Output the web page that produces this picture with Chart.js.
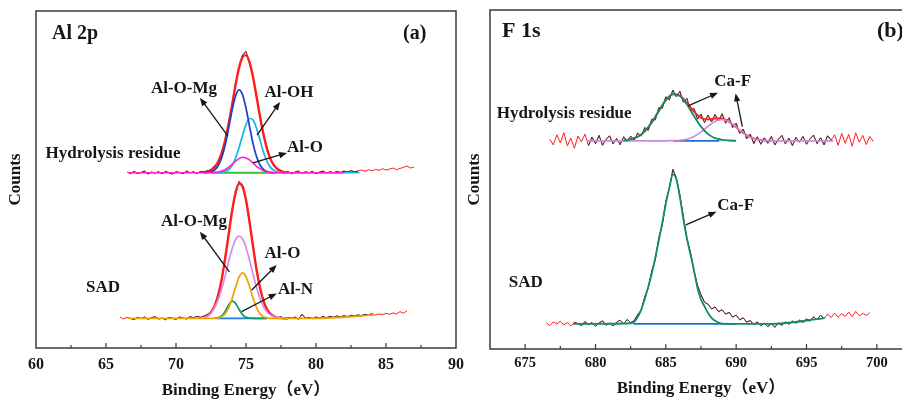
<!DOCTYPE html>
<html>
<head>
<meta charset="utf-8">
<script src="https://cdn.jsdelivr.net/npm/chart.js@4.4.1/dist/chart.umd.min.js"></script>
<style>
    html, body { margin: 0; padding: 0; width: 902px; height: 401px; overflow: hidden; background: #fff; }
    .panel { position: absolute; top: 0; height: 401px; }
    #panelA { left: 0; width: 470px; }
    #panelB { left: 460px; width: 460px; }
</style>
</head>
<body>
<div class="panel" id="panelA"><canvas id="chartA" width="470" height="401"></canvas></div>
<div class="panel" id="panelB"><canvas id="chartB" width="460" height="401"></canvas></div>
<script>
// ---- Al 2p (a) ----
// raw spectra, counts above each spectrum's baseline, one point every 0.25 eV
const al2pStep = 0.25;
const al2pHydStart = 66.5;
const al2pHydBase = 52.0;
const al2pHydRaw = [
    0.2, -0.3, 0.4, -0.2, 0.1, 0.5, -0.4, 0.2, -0.1, 0.3,
    -0.3, 0.4, 0.0, -0.4, 0.3, 0.1, -0.3, 0.5, 0.0, 0.3,
    -0.2, 0.4, 0.3, 0.6, 0.9, 2.0, 3.0, 6.0, 9.1, 14.6,
    19.7, 26.3, 31.0, 35.0, 36.0, 32.5, 28.6, 22.4, 17.0, 11.1,
    7.4, 3.9, 2.4, 0.9, 0.7, -0.1, 0.4, -0.3, 0.2, 0.5,
    -0.2, 0.3, 0.0, 0.4, -0.3, 0.2, 0.5, -0.1, 0.3, 0.0,
    0.4, 0.1, 0.5, 0.2, 0.6, 0.3, 0.5, 0.8, 0.4, 0.9,
    0.6, 1.0, 0.7, 1.2, 0.8, 1.1, 1.4, 0.9, 1.3, 1.6,
    2.0, 1.4, 1.7,
];
const al2pSadStart = 66.0;
const al2pSadBase = 8.8;
const al2pSadRaw = [
    0.4, -0.2, 0.3, 0.0, -0.4, 0.3, -0.1, 0.4, -0.3, 0.2,
    0.5, -0.2, 0.1, -0.4, 0.3, 0.0, -0.3, 0.4, 0.1, -0.2,
    0.5, 0.2, 0.6, 0.3, 0.7, 1.2, 1.9, 3.4, 6.9, 11.0,
    17.8, 24.3, 32.0, 37.0, 40.6, 39.0, 35.4, 28.3, 21.8, 14.3,
    9.4, 4.9, 2.9, 1.1, 0.8, 0.1, 0.5, -0.2, 0.3, 0.0,
    0.4, -0.3, 1.2, 0.1, 0.3, -0.1, 0.4, 0.1, 0.5, 0.2,
    0.6, 0.3, 0.7, 0.4, 0.8, 0.5, 0.9, 0.7, 1.0, 0.8,
    1.2, 0.9, 1.4, 1.0, 1.3, 1.1, 1.5, 1.2, 1.6, 1.3,
    2.0, 1.5, 2.3,
];

// fitted peaks
const al2pGrid = [72.0, 72.25, 72.5, 72.75, 73.0, 73.25, 73.5, 73.75, 74.0, 74.25, 74.5, 74.75, 75.0,
    75.25, 75.5, 75.75, 76.0, 76.25, 76.5, 76.75, 77.0, 77.25, 77.5, 77.75, 78.0];
const al2pHydFitE = [66.6, ...al2pGrid, 82.0, 83.1];
const al2pHydEnv = [null, 0.1, 0.3, 0.8, 1.6, 3.2, 5.7, 9.4, 14.3, 20.0, 26.0, 31.1, 34.3, 34.9, 32.8, 28.4, 22.7, 16.7, 11.4, 7.1, 4.1, 2.2, 1.1, 0.5, 0.2, 0.1, null, null];
const al2pHydAlOMg = [null, 0.0, 0.1, 0.3, 0.8, 2.0, 4.3, 8.0, 13.0, 18.4, 22.7, 24.6, 23.2, 19.2, 13.8, 8.7, 4.8, 2.3, 1.0, 0.4, 0.1, 0.0, null, null, null, null, null, null];
const al2pHydAlOH = [null, null, null, 0.0, 0.0, 0.0, 0.1, 0.4, 0.9, 2.1, 4.3, 7.4, 11.0, 14.3, 16.1, 15.7, 13.2, 9.7, 6.1, 3.4, 1.6, 0.7, 0.2, 0.1, 0.0, 0.0, 0.0, 0.0];
const al2pHydAlO = [0.0, 0.0, 0.0, 0.0, 0.1, 0.2, 0.5, 0.9, 1.6, 2.5, 3.4, 4.2, 4.6, 4.4, 3.8, 2.9, 1.9, 1.2, 0.6, 0.3, 0.1, 0.0, 0.0, 0.0, 0.0, 0.0, 0.0, null];
const al2pHydBgE = [72.6, 77.2];

const al2pSadFitE = [66.6, ...al2pGrid, 80.0, 84.2];
const al2pSadEnv = [null, 0.3, 0.8, 1.8, 3.6, 6.7, 11.3, 17.5, 24.6, 31.7, 37.2, 40.0, 39.2, 35.1, 28.7, 21.4, 14.6, 9.1, 5.2, 2.7, 1.3, 0.6, 0.2, 0.1, 0.0, 0.0, null, null];
const al2pSadAlOMg = [null, 0.3, 0.7, 1.6, 3.1, 5.4, 8.5, 12.4, 16.6, 20.5, 23.3, 24.4, 23.6, 21.0, 17.3, 13.1, 9.2, 5.9, 3.5, 1.9, 1.0, 0.5, 0.2, 0.1, 0.0, 0.0, null, null];
const al2pSadAlO = [0.0, 0.0, 0.0, 0.0, 0.0, 0.1, 0.5, 1.3, 3.0, 5.7, 9.2, 12.2, 13.5, 12.4, 9.5, 6.0, 3.2, 1.4, 0.5, 0.2, 0.0, 0.0, 0.0, 0.0, 0.0, 0.0, 0.0, 1.0];
const al2pSadAlN = [null, null, null, null, 0.0, 0.2, 0.7, 2.0, 3.9, 5.1, 4.5, 2.7, 1.1, 0.3, 0.1, 0.0, 0.0, 0.0, 0.0, 0.0, null, null, null, null, null, null, null, null];
const al2pSadBgE = [72.9, 76.5];

// ---- F 1s (b) ----
const f1sStep = 0.25;
const f1sHydStart = 676.75;
const f1sHydBase = 61.4;
const f1sHydRaw = [
    0.5, -1.2, 1.8, -0.6, 2.4, -1.5, 0.8, -2.2, 1.4, -0.3,
    2.0, -1.4, 1.1, -0.8, 1.6, -1.3, 0.4, 1.5, -0.9, 0.7,
    -1.1, 1.2, -0.2, 1.4, 0.2, 2.3, 1.4, 3.9, 3.1, 6.4,
    6.2, 9.8, 9.6, 13.0, 12.1, 15.0, 13.0, 14.6, 11.4, 12.5,
    9.0, 9.6, 6.4, 7.9, 5.4, 7.6, 5.6, 7.8, 5.9, 8.0,
    5.2, 6.8, 3.9, 5.2, 2.2, 3.5, 0.6, 2.0, -0.8, 1.2,
    -1.0, 0.9, -0.7, 1.3, -1.2, 0.5, 1.6, -0.9, 0.8, -1.4,
    1.0, -0.4, 1.3, -1.0, 0.6, 1.7, -0.8, 0.9, -1.2, 1.5,
    0.2, 1.8, -1.3, 2.2, -0.7, 1.9, -1.6, 2.4, -0.4, 1.6,
    -1.1, 1.3, -0.2,
];
const f1sSadStart = 676.5;
const f1sSadBase = 7.4;
const f1sSadRaw = [
    0.3, -0.5, 0.6, 0.0, 0.8, -0.3, 0.4, -0.6, 0.5, 0.1,
    -0.5, 0.7, -0.2, 0.4, -0.7, 0.3, 0.9, -0.4, 0.2, -0.6,
    0.5, 1.1, 0.0, 1.3, 0.4, 1.0, 2.8, 4.0, 8.0, 10.6,
    15.6, 19.0, 25.4, 29.2, 36.2, 40.0, 45.6, 43.0, 37.9, 31.5,
    25.0, 21.2, 15.6, 11.4, 8.6, 6.4, 5.8, 4.4, 5.0, 3.6,
    4.2, 2.9, 3.4, 2.0, 2.6, 1.2, 1.8, 0.5, 1.0, -0.2,
    0.6, -0.5, 0.2, -0.8, 0.1, -1.0, 0.3, -0.4, 0.6, -0.1,
    0.8, 0.2, 1.1, 0.4, 1.5, 0.8, 2.1, 1.2, 2.6, 1.5,
    2.9, 1.9, 3.2, 2.0, 3.0, 2.2, 3.5, 2.1, 3.7, 2.4,
    3.1, 2.5, 3.3,
];

const f1sHydFitE = [679.4, 682.0, 682.5, 683.0, 683.5, 684.0, 684.5, 685.0, 685.5, 686.0, 686.5, 687.0,
    687.5, 688.0, 688.5, 689.0, 689.5, 690.0, 690.5, 691.0, 691.5, 692.0, 692.5, 696.9];
const f1sHydCaF1 = [null, 0.1, 0.5, 1.2, 2.8, 5.4, 8.8, 12.0, 13.7, 13.2, 10.7, 7.3, 4.2, 2.0, 0.8, 0.3, 0.1, 0.0, null, null, null, null, null, null];
const f1sHydCaF2 = [0.0, 0.0, 0.0, 0.0, 0.0, 0.0, 0.0, 0.0, 0.1, 0.2, 0.5, 1.3, 2.6, 4.3, 5.8, 6.3, 5.6, 4.0, 2.3, 1.1, 0.4, 0.1, 0.0, 0.0];
const f1sHydEnv = [null, 0.1, 0.5, 1.2, 2.8, 5.4, 8.8, 12.0, 13.8, 13.4, 11.2, 8.6, 6.8, 6.3, 6.6, 6.6, 5.6, 4.0, 2.3, 1.1, 0.4, 0.1, 0.0, null];
const f1sHydBgE = [685.5, 688.8];

const f1sSadFitE = [678.4, 682.5, 682.75, 683.0, 683.25, 683.5, 683.75, 684.0, 684.25, 684.5, 684.75, 685.0,
    685.25, 685.5, 685.75, 686.0, 686.25, 686.5, 686.75, 687.0, 687.25, 687.5, 687.75, 688.0, 688.25,
    688.5, 688.75, 689.0, 692.5, 696.3];
const f1sSadCaF = [0.0, 0.2, 0.6, 2.0, 4.2, 7.3, 11.0, 14.8, 19.5, 24.6, 29.9, 35.5, 40.2, 44.1, 42.6, 37.4,
    30.8, 25.2, 20.5, 15.8, 10.6, 7.2, 5.2, 3.2, 1.8, 0.9, 0.4, 0.1, 0.0, 1.7];
const f1sSadBgE = [682.7, 690.0];

const FONT = '"Liberation Serif", "Times New Roman", "Noto Sans CJK SC", serif';
const INK = "#161616";

function pairs(xs, ys, base) {
    return xs.map((x, i) => ({ x: x, y: ys[i] === null ? null : ys[i] + base }));
}
function rawPoints(start, step, ys, base) {
    return ys.map((v, i) => ({ x: +(start + i * step).toFixed(2), y: v + base }));
}
function flat(xs, base) {
    return xs.map((x) => ({ x: x, y: base }));
}
function line(data, color, width, smooth) {
    return {
        data: data,
        showLine: true,
        borderColor: color,
        backgroundColor: color,
        borderWidth: width,
        pointRadius: 0,
        fill: false,
        tension: 0,
        cubicInterpolationMode: smooth ? "monotone" : "default",
    };
}

function drawArrow(ctx, x1, y1, x2, y2) {
    const a = Math.atan2(y2 - y1, x2 - x1);
    const len = 8, half = 3.2;
    ctx.beginPath();
    ctx.moveTo(x1, y1);
    ctx.lineTo(x2 - len * 0.7 * Math.cos(a), y2 - len * 0.7 * Math.sin(a));
    ctx.stroke();
    ctx.beginPath();
    ctx.moveTo(x2, y2);
    ctx.lineTo(x2 - len * Math.cos(a) + half * Math.sin(a), y2 - len * Math.sin(a) - half * Math.cos(a));
    ctx.lineTo(x2 - len * Math.cos(a) - half * Math.sin(a), y2 - len * Math.sin(a) + half * Math.cos(a));
    ctx.closePath();
    ctx.fill();
}

// frame box, inward ticks, panel titles, labels and arrows
const decor = {
    id: "decor",
    afterDraw(chart, args, opts) {
        const ctx = chart.ctx;
        const ca = chart.chartArea;
        const xs = chart.scales.x;
        const ys = chart.scales.y;
        ctx.save();
        ctx.strokeStyle = "#3a3a3a";
        ctx.lineWidth = 1.5;
        ctx.strokeRect(ca.left, ca.top, ca.right - ca.left, ca.bottom - ca.top);
        ctx.lineWidth = 1.2;
        xs.ticks.forEach((t) => {
            if (t.value <= xs.min || t.value >= xs.max) return;
            const px = xs.getPixelForValue(t.value);
            const len = t.value % 5 === 0 ? 5 : 3;
            ctx.beginPath();
            ctx.moveTo(px, ca.bottom);
            ctx.lineTo(px, ca.bottom - len);
            ctx.stroke();
        });

        ctx.fillStyle = INK;
        ctx.textBaseline = "alphabetic";
        ctx.font = `bold ${opts.titleSize}px ${FONT}`;
        ctx.textAlign = "left";
        ctx.fillText(opts.title, ca.left + opts.titleDx, ca.top + opts.titleDy);
        ctx.fillText(opts.tag, ca.right + opts.tagDx, ca.top + opts.titleDy);

        ctx.font = `bold 17px ${FONT}`;
        ctx.textAlign = "center";
        ctx.textBaseline = "middle";
        opts.labels.forEach((l) => {
            ctx.fillText(l.text, xs.getPixelForValue(l.x), ys.getPixelForValue(l.y));
        });
        ctx.strokeStyle = INK;
        ctx.lineWidth = 1.3;
        opts.arrows.forEach((a) => {
            drawArrow(ctx, xs.getPixelForValue(a[0]), ys.getPixelForValue(a[1]), xs.getPixelForValue(a[2]), ys.getPixelForValue(a[3]));
        });
        ctx.restore();
    },
};

function makeChart(id, p) {
    const ctx = document.querySelector(id).getContext("2d");
    return new Chart(ctx, {
        type: "scatter",
        data: { datasets: p.datasets },
        plugins: [decor],
        options: {
            responsive: false,
            animation: false,
            layout: { padding: { left: 0, top: p.top, right: p.right, bottom: 0 } },
            plugins: {
                legend: { display: false },
                tooltip: { enabled: false },
                decor: p.decor,
            },
            scales: {
                x: {
                    type: "linear",
                    min: p.xMin,
                    max: p.xMax,
                    grid: { display: false, drawTicks: false },
                    border: { display: false },
                    ticks: {
                        stepSize: 2.5,
                        autoSkip: false,
                        maxRotation: 0,
                        padding: p.tickPad,
                        color: INK,
                        font: { family: FONT, size: p.tickSize, weight: "bold" },
                        callback: (v) => (v % 5 === 0 ? String(v) : ""),
                    },
                    title: {
                        display: true,
                        text: "Binding Energy（eV）",
                        color: INK,
                        font: { family: FONT, size: 17, weight: "bold" },
                        padding: { top: 0, bottom: p.xTitlePad },
                    },
                    afterFit: (s) => {
                        s.height = p.xHeight;
                        s.paddingLeft = 0;
                        s.paddingRight = 0;
                    },
                },
                y: {
                    min: 0,
                    max: 100,
                    grid: { display: false, drawTicks: false },
                    border: { display: false },
                    ticks: { display: false },
                    title: {
                        display: true,
                        text: "Counts",
                        color: INK,
                        font: { family: FONT, size: 17, weight: "bold" },
                        padding: { top: p.yTitlePad, bottom: 0 },
                    },
                    afterFit: (s) => {
                        s.width = p.yWidth;
                    },
                },
            },
        },
    });
}

const RED = "#ff1d1d";
const GREY = "#3b3b3b";

makeChart("#chartA", {
    xMin: 60, xMax: 90, top: 11, right: 14, yWidth: 36, xHeight: 53,
    tickSize: 16, tickPad: 7, xTitlePad: 0, yTitlePad: 5,
    datasets: [
        line(pairs(al2pHydFitE, al2pHydAlO, al2pHydBase), "#ff22c8", 1.6, true),
        line(pairs(al2pHydFitE, al2pHydAlOMg, al2pHydBase), "#1d3fcc", 1.7, true),
        line(pairs(al2pHydFitE, al2pHydAlOH, al2pHydBase), "#12b6e8", 1.7, true),
        line(flat(al2pHydBgE, al2pHydBase), "#33c233", 1.8),
        line(pairs(al2pHydFitE, al2pHydEnv, al2pHydBase), RED, 2.4, true),
        line(rawPoints(al2pHydStart, al2pStep, al2pHydRaw, al2pHydBase).slice(1, 67), GREY, 1),
        line(rawPoints(al2pHydStart, al2pStep, al2pHydRaw, al2pHydBase), RED, 1),

        line(pairs(al2pSadFitE, al2pSadAlO, al2pSadBase), "#f0a200", 1.7, true),
        line(pairs(al2pSadFitE, al2pSadAlOMg, al2pSadBase), "#d68be8", 1.7, true),
        line(pairs(al2pSadFitE, al2pSadAlN, al2pSadBase), "#0f9a6a", 1.7, true),
        line(flat(al2pSadBgE, al2pSadBase), "#1e7fe0", 1.8),
        line(pairs(al2pSadFitE, al2pSadEnv, al2pSadBase), RED, 2.4, true),
        line(rawPoints(al2pSadStart, al2pStep, al2pSadRaw, al2pSadBase).slice(3, 73), GREY, 1),
        line(rawPoints(al2pSadStart, al2pStep, al2pSadRaw, al2pSadBase), RED, 1),
    ],
    decor: {
        title: "Al 2p", tag: "(a)", titleSize: 20, titleDx: 16, titleDy: 28.3, tagDx: -53,
        labels: [
            { text: "Hydrolysis residue", x: 65.5, y: 57.7 },
            { text: "Al-O-Mg", x: 70.57, y: 77.0 },
            { text: "Al-OH", x: 78.07, y: 75.7 },
            { text: "Al-O", x: 79.21, y: 59.5 },
            { text: "SAD", x: 64.79, y: 18.0 },
            { text: "Al-O-Mg", x: 71.29, y: 37.5 },
            { text: "Al-O", x: 77.61, y: 28.1 },
            { text: "Al-N", x: 78.54, y: 17.4 },
        ],
        arrows: [
            [73.71, 62.9, 71.71, 74.2],
            [75.79, 63.2, 77.43, 73.0],
            [75.5, 54.9, 77.93, 57.9],
            [73.81, 22.6, 71.71, 34.5],
            [75.41, 17.2, 77.19, 24.6],
            [74.69, 10.8, 77.19, 16.2],
        ],
    },
});

makeChart("#chartB", {
    xMin: 672.5, xMax: 702.5, top: 10, right: 8, yWidth: 30, xHeight: 52,
    tickSize: 14.5, tickPad: 5.5, xTitlePad: 2, yTitlePad: 4,
    datasets: [
        line(pairs(f1sHydFitE, f1sHydCaF1, f1sHydBase), "#0e8f66", 1.8, true),
        line(pairs(f1sHydFitE, f1sHydCaF2, f1sHydBase), "#c98ae0", 1.6, true),
        line(pairs(f1sHydFitE, f1sHydEnv, f1sHydBase), RED, 1.8, true),
        line(flat(f1sHydBgE, f1sHydBase), "#1d6fd6", 1.8),
        line(rawPoints(f1sHydStart, f1sStep, f1sHydRaw, f1sHydBase).slice(11, 81), GREY, 1),
        line(rawPoints(f1sHydStart, f1sStep, f1sHydRaw, f1sHydBase), RED, 1),

        line(pairs(f1sSadFitE, f1sSadCaF, f1sSadBase), "#0e8f66", 1.8, true),
        line(flat(f1sSadBgE, f1sSadBase), "#1d6fd6", 1.8),
        line(rawPoints(f1sSadStart, f1sStep, f1sSadRaw, f1sSadBase).slice(8, 80), GREY, 1),
        line(rawPoints(f1sSadStart, f1sStep, f1sSadRaw, f1sSadBase), RED, 1),
    ],
    decor: {
        title: "F 1s", tag: "(b)", titleSize: 22, titleDx: 12, titleDy: 26.7, tagDx: -35,
        labels: [
            { text: "Hydrolysis residue", x: 677.77, y: 69.3 },
            { text: "Ca-F", x: 689.75, y: 78.9 },
            { text: "SAD", x: 675.04, y: 19.5 },
            { text: "Ca-F", x: 689.96, y: 42.3 },
        ],
        arrows: [
            [686.58, 71.7, 688.71, 75.6],
            [690.44, 65.6, 689.96, 75.4],
            [686.42, 36.6, 688.6, 40.5],
        ],
    },
});
</script>
</body>
</html>
